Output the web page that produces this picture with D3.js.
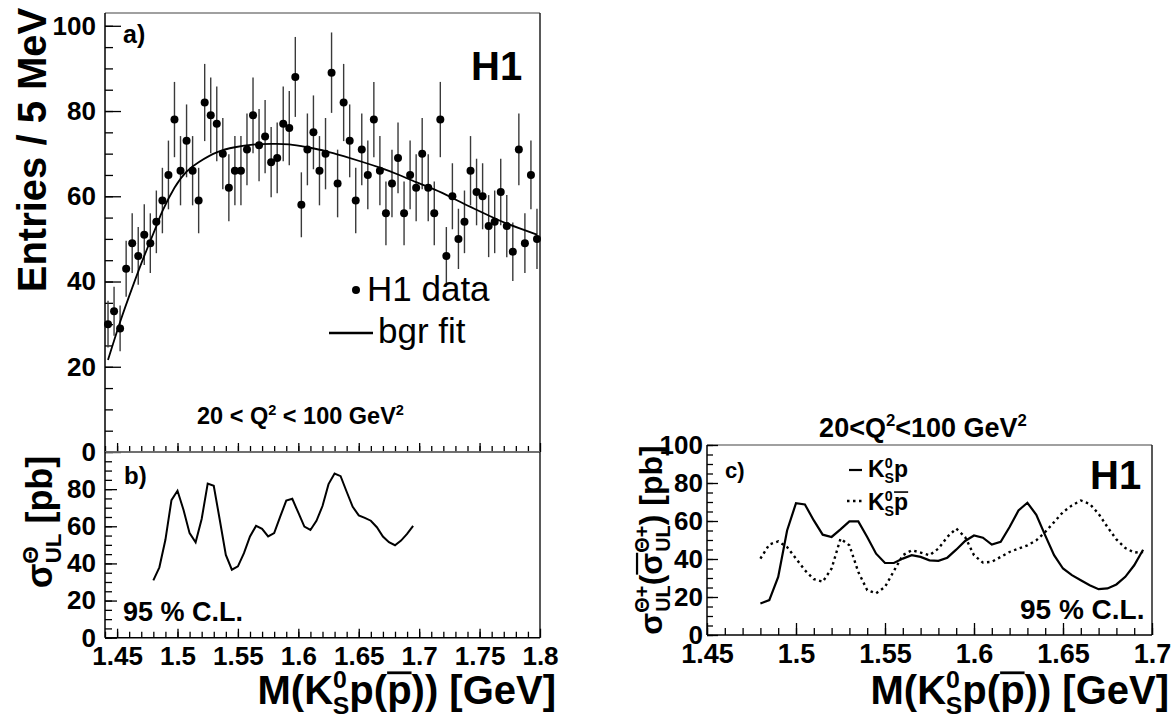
<!DOCTYPE html>
<html>
<head>
<meta charset="utf-8">
<script src="https://cdn.jsdelivr.net/npm/d3@7"></script>
<style>
  body { margin: 0; background: #fff; }
  text { font-family: "Liberation Sans", Arial, sans-serif; font-weight: bold; fill: #000; }
</style>
</head>
<body>
<svg id="chart" width="1175" height="720"></svg>
<script>
// panel a: K0s p candidates, 5 MeV bins (bin centres in GeV)
const binCentres = [
  1.4425, 1.4475, 1.4525, 1.4575, 1.4625, 1.4675, 1.4725, 1.4775, 1.4825, 1.4875,
  1.4925, 1.4975, 1.5025, 1.5075, 1.5125, 1.5175, 1.5225, 1.5275, 1.5325, 1.5375,
  1.5425, 1.5475, 1.5525, 1.5575, 1.5625, 1.5675, 1.5725, 1.5775, 1.5825, 1.5875,
  1.5925, 1.5975, 1.6025, 1.6075, 1.6125, 1.6175, 1.6225, 1.6275, 1.6325, 1.6375,
  1.6425, 1.6475, 1.6525, 1.6575, 1.6625, 1.6675, 1.6725, 1.6775, 1.6825, 1.6875,
  1.6925, 1.6975, 1.7025, 1.7075, 1.7125, 1.7175, 1.7225, 1.7275, 1.7325, 1.7375,
  1.7425, 1.7475, 1.7525, 1.7575, 1.7625, 1.7675, 1.7725, 1.7775, 1.7825, 1.7875,
  1.7925, 1.7975
];
const entries = [
  30, 33, 29, 43, 49, 46, 51, 49, 54, 59,
  65, 78, 66, 73, 66, 59, 82, 79, 77, 70,
  62, 66, 66, 71, 79, 72, 74, 68, 69, 77,
  76, 88, 58, 71, 75, 66, 70, 89, 63, 82,
  73, 59, 71, 65, 78, 66, 56, 63, 69, 56,
  65, 62, 70, 62, 56, 78, 46, 60, 50, 54,
  66, 61, 60, 53, 54, 61, 53, 47, 71, 49,
  65, 50
];
// background fit
const fitMass = [1.4425, 1.4525, 1.4625, 1.4725, 1.4825, 1.4875, 1.4975, 1.5075, 1.5175, 1.5325,
  1.5475, 1.5625, 1.5775, 1.5925, 1.6075, 1.6225, 1.6375, 1.6525, 1.6675, 1.6825,
  1.6975, 1.7125, 1.7275, 1.7425, 1.7575, 1.7725, 1.7975];
const fitValue = [21.6, 30.5, 38.5, 46, 53, 56.5, 62, 65.8, 68, 70.3,
  71.5, 72.1, 72.3, 72.2, 71.5, 70.6, 69.4, 68.1, 66.7, 65.1,
  63.3, 61.6, 59.6, 57.5, 55.5, 53.6, 51];

// panels b and c: upper limits vs mass
const limitMass = [
  1.48, 1.485, 1.49, 1.495, 1.5, 1.505, 1.51, 1.515, 1.52, 1.525, 1.53,
  1.535, 1.54, 1.545, 1.55, 1.555, 1.56, 1.565, 1.57, 1.575, 1.58, 1.585,
  1.59, 1.595, 1.6, 1.605, 1.61, 1.615, 1.62, 1.625, 1.63, 1.635, 1.64,
  1.645, 1.65, 1.655, 1.66, 1.665, 1.67, 1.675, 1.68, 1.685, 1.69, 1.695
];
const limitAll = [
  30.9, 37.9, 52.7, 74.1, 79.1, 68.8, 56.3, 51.4, 63.9, 83, 81.8,
  63.4, 44.6, 36.6, 38.4, 45.5, 54.5, 60.2, 58.6, 54.5, 56.3, 65.2,
  73.8, 74.8, 67.3, 59.8, 58, 62.9, 70.9, 82.7, 88.4, 87, 78.6,
  70.5, 65.9, 64.5, 63, 59.5, 54.5, 51.4, 49.8, 52.3, 55.9, 60.2
];
const limitProton = [
  16.6, 18.4, 30.6, 55, 69.4, 68.7, 60.3, 52.8, 51.6, 55.6, 59.8,
  59.8, 51.6, 42.8, 37.9, 37.9, 40.2, 42, 41.1, 39.3, 39, 40.7,
  44.9, 49.5, 52.4, 51.2, 47.6, 49, 56.8, 65.6, 69.6, 63.3, 52.4,
  42, 35, 31.5, 28.8, 26.2, 24.1, 24.5, 26.6, 30.6, 36.7, 44.9
];
const limitAntiproton = [
  40.2, 47.6, 49.3, 46.3, 40.2, 34.1, 29.4, 28, 35, 50.7, 47.2,
  33.2, 23.6, 21.9, 25.3, 33.7, 42, 44.6, 43.4, 42, 45.5, 51.6,
  56, 51.6, 42, 38.1, 38.5, 41.1, 43.7, 45.5, 47.2, 49.8, 54.2,
  59.4, 64.7, 68.2, 70.8, 69, 63.8, 56.8, 50.3, 45.8, 43.4, 43.7
];

const svg = d3.select("#chart");

const xA = d3.scaleLinear().domain([1.44, 1.80]).range([105, 540]);
const yA = d3.scaleLinear().domain([0, 103]).range([452, 13]);
const yB = d3.scaleLinear().domain([0, 100]).range([637.7, 452]);
const xC = d3.scaleLinear().domain([1.45, 1.70]).range([707, 1152]);
const yC = d3.scaleLinear().domain([0, 100]).range([635, 445]);

// text with ROOT-like super/subscripts and overlines
function richText(x, y, size, parts, opts = {}) {
  const g = svg.append("g");
  if (opts.transform) g.attr("transform", opts.transform);
  const t = g.append("text").attr("x", x).attr("y", y).attr("font-size", size)
    .attr("text-anchor", opts.anchor || "start");
  let shift = 0;
  const overs = [];
  parts.forEach(p => {
    const s = t.append("tspan").text(p.t);
    let target = 0, fs = size;
    if (p.sup) { target = -0.4 * size; fs = 0.62 * size; }
    if (p.sub) { target = 0.24 * size; fs = 0.62 * size; }
    s.attr("font-size", fs).attr("dy", target - shift);
    if (p.dx) s.attr("dx", p.dx);
    if (p.over) overs.push(s);
    shift = target;
  });
  overs.forEach(s => {
    const n = s.node();
    const a = n.getStartPositionOfChar(0);
    const b = n.getEndPositionOfChar(n.getNumberOfChars() - 1);
    g.append("line")
      .attr("x1", a.x).attr("x2", b.x)
      .attr("y1", a.y - 0.78 * size).attr("y2", a.y - 0.78 * size)
      .attr("stroke", "#000").attr("stroke-width", 0.07 * size);
  });
  return g;
}

function frame(x, y) {
  const [x0, x1] = x.range(), [y0, y1] = [y.range()[1], y.range()[0]];
  svg.append("line").attr("x1", x0).attr("x2", x1).attr("y1", y0).attr("y2", y0)
    .attr("stroke", "#808080").attr("stroke-width", 1.5);
  svg.append("line").attr("x1", x1).attr("x2", x1).attr("y1", y0).attr("y2", y1)
    .attr("stroke", "#222").attr("stroke-width", 1.5);
  svg.append("line").attr("x1", x0).attr("x2", x0).attr("y1", y0).attr("y2", y1)
    .attr("stroke", "#000").attr("stroke-width", 1.5);
  svg.append("line").attr("x1", x0).attr("x2", x1).attr("y1", y1).attr("y2", y1)
    .attr("stroke", "#000").attr("stroke-width", 1.5);
}

function styleAxis(s, fontSize) {
  s.select(".domain").remove();
  s.selectAll("line").attr("stroke", "#000").attr("stroke-width", 1.3);
  s.selectAll("text").attr("font-size", fontSize).attr("font-family", null)
    .style("font-family", "'Liberation Sans', Arial, sans-serif").style("font-weight", "bold");
}

function ticksY(scale, x, major, minor, lenMajor, lenMinor, fontSize, pad) {
  const g = svg.append("g").attr("transform", `translate(${x},0)`);
  g.call(d3.axisLeft(scale).tickValues(minor).tickSize(-lenMinor).tickFormat(""));
  const gm = svg.append("g").attr("transform", `translate(${x},0)`);
  gm.call(d3.axisLeft(scale).tickValues(major).tickSize(-lenMajor).tickPadding(pad)
    .tickFormat(d3.format("d")));
  styleAxis(g, fontSize);
  styleAxis(gm, fontSize);
}

function ticksX(scale, y, major, minor, lenMajor, lenMinor, fontSize, labels) {
  const g = svg.append("g").attr("transform", `translate(0,${y})`);
  g.call(d3.axisBottom(scale).tickValues(minor).tickSize(-lenMinor).tickFormat(""));
  const gm = svg.append("g").attr("transform", `translate(0,${y})`);
  gm.call(d3.axisBottom(scale).tickValues(major).tickSize(-lenMajor).tickPadding(9)
    .tickFormat(labels ? (d => String(+d.toFixed(2))) : ""));
  styleAxis(g, fontSize);
  styleAxis(gm, fontSize);
}

const massMajorAB = [1.45, 1.5, 1.55, 1.6, 1.65, 1.7, 1.75, 1.8];
const massMinorAB = d3.range(36).map(i => 1.44 + i * 0.01);
const massMajorC = [1.45, 1.5, 1.55, 1.6, 1.65, 1.7];
const massMinorC = d3.range(26).map(i => 1.45 + i * 0.01);
const entryMajor = [0, 20, 40, 60, 80, 100];
const entryMinor = d3.range(21).map(i => i * 5);
const limitMajorB = [0, 20, 40, 60, 80];
const limitMinorB = d3.range(20).map(i => i * 5);
const limitMajorC = [0, 20, 40, 60, 80, 100];
const limitMinorC = d3.range(21).map(i => i * 5);

const massTitle = [
  { t: "M(K" }, { t: "0", sup: true }, { t: "S", sub: true, dx: -14 },
  { t: "p(" }, { t: "p", over: true }, { t: ")) [GeV]" }
];

// ---------- panel a ----------
frame(xA, yA);
ticksY(yA, 105, entryMajor, entryMinor, 16, 8, 26, 9);
ticksX(xA, 452, massMajorAB, massMinorAB, 9, 6, 26, false);

// error bars: Poisson sqrt(N)
svg.append("g").selectAll("line")
  .data(entries)
  .join("line")
  .attr("x1", (d, i) => xA(binCentres[i]))
  .attr("x2", (d, i) => xA(binCentres[i]))
  .attr("y1", d => yA(d - Math.sqrt(d)))
  .attr("y2", d => yA(d + Math.sqrt(d)))
  .attr("stroke", "#3a3a3a")
  .attr("stroke-width", 1.4);

svg.append("path")
  .datum(fitMass.map((m, i) => [m, fitValue[i]]))
  .attr("fill", "none")
  .attr("stroke", "#000")
  .attr("stroke-width", 1.8)
  .attr("d", d3.line().x(d => xA(d[0])).y(d => yA(d[1])).curve(d3.curveNatural));

svg.append("g").selectAll("circle")
  .data(entries)
  .join("circle")
  .attr("cx", (d, i) => xA(binCentres[i]))
  .attr("cy", d => yA(d))
  .attr("r", 4)
  .attr("fill", "#000");

svg.append("text").attr("x", 123).attr("y", 43).attr("font-size", 25).text("a)");
svg.append("text").attr("x", 471).attr("y", 80).attr("font-size", 40).text("H1");

// legend
svg.append("circle").attr("cx", 356).attr("cy", 290).attr("r", 4).attr("fill", "#000");
svg.append("text").attr("x", 367).attr("y", 301).attr("font-size", 35)
  .style("font-weight", "normal").text("H1 data");
svg.append("line").attr("x1", 329).attr("x2", 373).attr("y1", 333).attr("y2", 333)
  .attr("stroke", "#000").attr("stroke-width", 2.4);
svg.append("text").attr("x", 378).attr("y", 343).attr("font-size", 35)
  .style("font-weight", "normal").text("bgr fit");

richText(197, 424, 23.5, [
  { t: "20 < Q" }, { t: "2", sup: true }, { t: " < 100 GeV" }, { t: "2", sup: true }
]);

// y title a
richText(0, 0, 40, [{ t: "Entries / 5 MeV" }],
  { anchor: "middle", transform: "translate(46,150) rotate(-90)" });

// ---------- panel b ----------
frame(xA, yB);
ticksY(yB, 105, limitMajorB, limitMinorB, 12, 7, 26, 9);
ticksX(xA, 637.7, massMajorAB, massMinorAB, 9, 6, 26, true);

svg.append("path")
  .datum(limitMass.map((m, i) => [m, limitAll[i]]))
  .attr("fill", "none")
  .attr("stroke", "#000")
  .attr("stroke-width", 2)
  .attr("d", d3.line().x(d => xA(d[0])).y(d => yB(d[1])));

svg.append("text").attr("x", 124).attr("y", 484).attr("font-size", 24).text("b)");
svg.append("text").attr("x", 123).attr("y", 621).attr("font-size", 27).text("95 % C.L.");

richText(0, 0, 36, [
  { t: "σ" }, { t: "Θ", sup: true }, { t: "UL", sub: true, dx: -17 }, { t: " [pb]" }
], { anchor: "middle", transform: "translate(52,522) rotate(-90)" });

// x title a/b
richText(556, 704, 40, massTitle, { anchor: "end" });

// ---------- panel c ----------
frame(xC, yC);
ticksY(yC, 707, limitMajorC, limitMinorC, 11, 6, 26, 4);
ticksX(xC, 635, massMajorC, massMinorC, 12, 7, 27, true);

const lineC = d3.line().x(d => xC(d[0])).y(d => yC(d[1]));
svg.append("path")
  .datum(limitMass.map((m, i) => [m, limitProton[i]]))
  .attr("fill", "none").attr("stroke", "#000").attr("stroke-width", 2.2)
  .attr("d", lineC);
svg.append("path")
  .datum(limitMass.map((m, i) => [m, limitAntiproton[i]]))
  .attr("fill", "none").attr("stroke", "#000").attr("stroke-width", 2.4)
  .attr("stroke-dasharray", "2.5,3.5")
  .attr("d", lineC);

richText(923, 437, 27, [
  { t: "20<Q" }, { t: "2", sup: true }, { t: "<100 GeV" }, { t: "2", sup: true }
], { anchor: "middle" });

svg.append("text").attr("x", 725).attr("y", 478).attr("font-size", 22).text("c)");
svg.append("text").attr("x", 1090).attr("y", 489).attr("font-size", 40).text("H1");
svg.append("text").attr("x", 1020).attr("y", 619).attr("font-size", 28).text("95 % C.L.");

svg.append("line").attr("x1", 849).attr("x2", 862).attr("y1", 470).attr("y2", 470)
  .attr("stroke", "#000").attr("stroke-width", 2.2);
richText(868, 477, 23, [
  { t: "K" }, { t: "0", sup: true }, { t: "S", sub: true, dx: -8 }, { t: "p" }
]);
svg.append("line").attr("x1", 847).attr("x2", 864).attr("y1", 501).attr("y2", 501)
  .attr("stroke", "#000").attr("stroke-width", 2.4).attr("stroke-dasharray", "2.5,3.5");
richText(868, 510, 23, [
  { t: "K" }, { t: "0", sup: true }, { t: "S", sub: true, dx: -8 }, { t: "p", over: true }
]);

richText(0, 0, 32, [
  { t: "σ" }, { t: "Θ+", sup: true }, { t: "UL", sub: true, dx: -26 },
  { t: "(" }, { t: "σ", over: true }, { t: "Θ+", sup: true }, { t: "UL", sub: true, dx: -26 },
  { t: ") [pb]" }
], { anchor: "middle", transform: "translate(662,540) rotate(-90)" });

richText(1169, 704, 40, massTitle, { anchor: "end" });
</script>
</body>
</html>
